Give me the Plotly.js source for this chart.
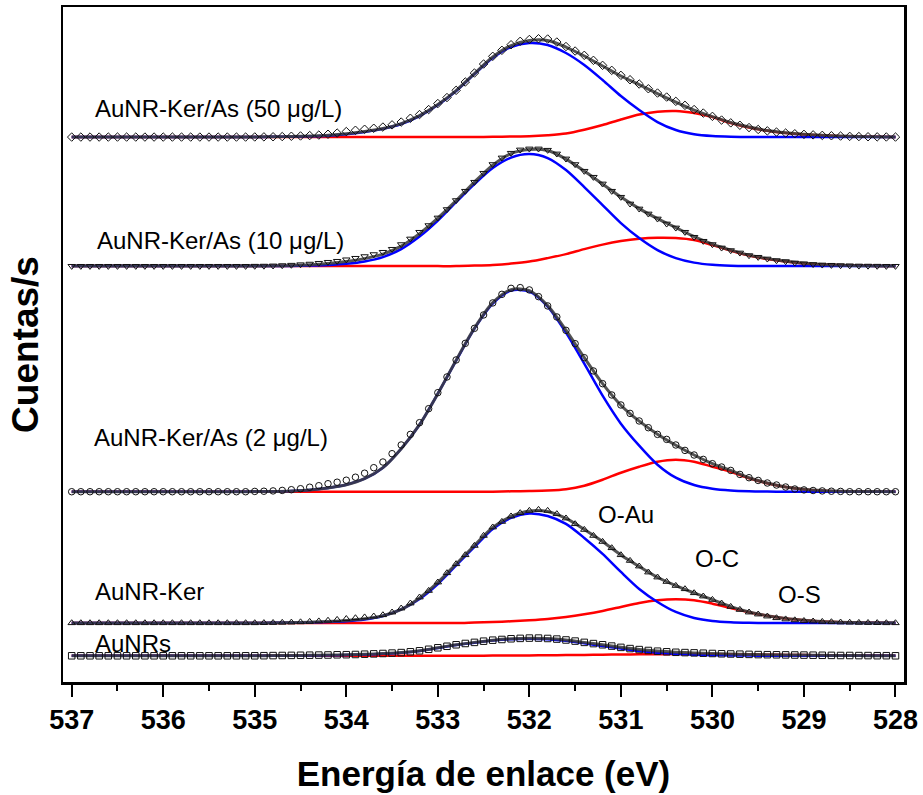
<!DOCTYPE html>
<html>
<head>
<meta charset="utf-8">
<script src="https://cdn.plot.ly/plotly-3.0.1.min.js"></script>
<style>html,body{margin:0;padding:0;background:#fff;}</style>
</head>
<body>
<div id="chart" style="width:923px;height:795px;"></div>
<script>
// Binding energies of the measured points (eV), 0.1 eV step
const energyPts = [537.0,536.9,536.8,536.7,536.6,536.5,536.4,536.3,536.2,536.1,536.0,535.9,535.8,535.7,535.6,535.5,535.4,535.3,535.2,535.1,
535.0,534.9,534.8,534.7,534.6,534.5,534.4,534.3,534.2,534.1,534.0,533.9,533.8,533.7,533.6,533.5,533.4,533.3,533.2,533.1,
533.0,532.9,532.8,532.7,532.6,532.5,532.4,532.3,532.2,532.1,532.0,531.9,531.8,531.7,531.6,531.5,531.4,531.3,531.2,531.1,
531.0,530.9,530.8,530.7,530.6,530.5,530.4,530.3,530.2,530.1,530.0,529.9,529.8,529.7,529.6,529.5,529.4,529.3,529.2,529.1,
529.0,528.9,528.8,528.7,528.6,528.5,528.4,528.3,528.2,528.1,528.0];
// Energies of the fitted curves (eV), 0.2 eV step
const energyFit = [537.0,536.8,536.6,536.4,536.2,536.0,535.8,535.6,535.4,535.2,
535.0,534.8,534.6,534.4,534.2,534.0,533.8,533.6,533.4,533.2,
533.0,532.8,532.6,532.4,532.2,532.0,531.8,531.6,531.4,531.2,
531.0,530.8,530.6,530.4,530.2,530.0,529.8,529.6,529.4,529.2,
529.0,528.8,528.6,528.4,528.2,528.0];

const sampleNames = ["AuNR-Ker/As (50 \u03bcg/L)","AuNR-Ker/As (10 \u03bcg/L)","AuNR-Ker/As (2 \u03bcg/L)","AuNR-Ker","AuNRs"];
const componentNames = ["O-Au", "O-C", "O-S"];
const baselines = [544.7, 415.7, 190.2, 59, 26.2];
const symbols = ["diamond-open","triangle-down-open","circle-open","triangle-up-open","square-open"];

// Measured counts (above each baseline)
const pts50 = [0,0,0,0,0,0,0,0,0,0,0,0,0,0,0,0,0,0,0,0,
0.1,0.2,0.3,0.5,0.8,1.1,1.5,2,2.8,4,
5.5,6.8,7.8,8.8,10,12.2,15,18.8,22.5,27.5,
33.5,39.5,46.7,55,64,73,80.7,86.7,92.3,95.7,
97.5,98.3,98,95,90.5,86,81.7,76.7,71.7,66.7,
61.7,57.3,53,48.3,44,40,35.7,31.7,27.5,24,
20.7,17,14.2,11.8,9.5,7.6,6.2,5,4,3.3,
2.7,2.2,1.7,1.3,1,0.7,0.5,0.3,0.2,0.1,0];
const pts10 = [0,0,0,0,0,0,0,0,0,0,0,0,0,0,0,0,0,0,0,0,
0.1,0.2,0.4,0.7,1.1,1.6,2.2,3,4,5,
6.5,8,9.7,11.7,14,17,21.7,27.3,34,40.7,
48.3,56.7,65.7,75,84,93,101.7,108.3,113,116.3,
117.3,117.3,116,112.3,107.3,101.7,95,89,82.3,75,
69,62.3,57.3,52.3,47.3,42.3,38.3,34,29,25,
21.7,18.3,15.7,13.3,10.7,9,7.3,5.7,4.7,3.3,
2.5,1.8,1.3,1,0.7,0.5,0.3,0.2,0.1,0,0];
const pts2 = [0,0,0,0,0,0,0,0,0,0,0,0,0,0,0,0,0,0,0,0,
0.3,0.5,0.8,1.3,2,3,4.5,6,8,9.5,
11.5,14.5,18.5,24,29.7,38,46.7,57.3,69,83,
99,114.7,131.7,148.3,163.3,176.7,188.7,197.3,203.3,204,
201.7,195,185.7,174.7,161.3,148,134,120.7,108,96.7,
86.7,78.3,70.7,64,57.3,52.3,46.7,41.3,36.7,32.3,
28,24.7,21.3,17.3,14,11.3,8.7,6.7,4.7,2.7,
1.8,1.2,0.8,0.5,0.3,0,0,0,0,0,0];
const ptsKer = [0,0,0,0,0,0,0,0,0,0,0,0,0,0,0,0,0,0,0,0,
0,0.1,0.2,0.4,0.6,0.9,1.3,1.8,2.5,3.3,
4.2,5,5.8,6.7,8,10.7,14.7,19.7,25.7,32.3,
40.7,50,59,68,77.3,87.3,95.7,101.3,106.7,110,
112.3,113.3,112.3,109,104.7,99,93.3,87.3,81.3,75,
68,62.3,56.7,50.7,45.7,41.3,37.3,34,30,26.7,
23.3,19.7,16.3,13.3,10.7,8.7,6.7,5,3.8,2.9,
2.2,1.7,1.3,1,0.7,0.5,0.3,0.2,0.1,0,0];
const ptsNR = [0,0,0,0,0,0,0,0,0,0,0,0,0,0,0,0,0,0,0,0,
0,0.1,0.2,0.3,0.4,0.5,0.6,0.7,0.8,1,
1.1,1.3,1.6,1.9,2.3,2.7,3.2,4,5,6.5,
8,9.5,11,12.3,13.4,14.6,15.6,16.3,17,17.4,
17.7,17.7,17.3,16.7,15.8,14.7,13.4,12.2,11,9.7,
8.4,7.2,6.2,5.3,4.6,4,3.5,3.2,2.9,2.6,
2.3,2,1.8,1.6,1.4,1.2,1.1,1,0.9,0.8,
0.7,0.6,0.5,0.4,0.3,0.3,0.2,0.2,0.1,0.1,0];

// Fit envelopes
const env50 = [0,0,0,0,0,0,0,0,0,0, 0.1,0.3,0.6,1.1,1.8, 3.2,5.5,8.5,13.5,21.5, 32.5,46.5,63.5,80,91.5, 96.5,96.5,90,81,71, 61,52.5,43.5,35,27, 20.5,14.5,10,6.5,4.3, 2.8,1.8,1.1,0.6,0.3, 0.1];
const env10 = [0,0,0,0,0,0,0,0,0,0, 0.1,0.3,0.7,1.4,2.6, 4.5,7.5,12,20,32.5, 48,65.5,84,101,112.5, 116.5,115.5,107,95,82, 69,57.5,47.5,38.5,29.5, 22,16,11,7.5,4.8, 2.9,1.6,0.9,0.4,0.2, 0.1];
const env2 = [0,0,0,0,0,0,0,0,0,0, 0.1,0.3,0.8,1.8,3.8, 7,13,24,43,67, 98,131.5,163.5,189,202, 201,186,161.5,134,108, 86.5,70.5,57.5,46.5,36.7, 28,21.3,14,8.7,4.8, 2.4,1.1,0.5,0.2,0.1, 0];
const envKer = [0,0,0,0,0,0,0,0,0,0, 0,0.2,0.4,0.8,1.5, 2.5,4.2,7.2,13.5,25, 40.5,59,77.5,95.5,106.5, 112,111.5,104.5,93.5,81.5, 68,56.5,45.7,37.3,30, 23.3,16.3,11,7.3,4.6, 2.8,1.5,0.8,0.4,0.2, 0.1];
const envNR = [0,0,0,0,0,0,0,0,0,0, 0,0.2,0.3,0.5,0.7, 1,1.5,2.2,3.2,5, 8,11,13.4,15.6,17, 17.6,17.2,15.8,13.4,11, 8.5,6.3,4.7,3.6,2.9, 2.3,1.8,1.4,1.1,0.9, 0.7,0.5,0.3,0.2,0.1, 0];

// O-Au component (blue)
const au50 = [0,0,0,0,0,0,0,0,0,0,0, 0.2,0.4,0.8,1.4, 2.7,5,8.2,13,21, 32,46,63,79,90, 94,92,84,72,57, 41,27,15,7,2.8, 1,0.3,0.1,0,0, 0,0,0,0,0, 0];
const au10 = [0,0,0,0,0,0,0,0,0,0,0, 0.1,0.2,0.5,1.1, 2.3,4.6,9,17,29.5, 45.5,64,82,98,108.5, 112,108,96,79,61, 43,28,16,8,3.5, 1.3,0.4,0.1,0,0, 0,0,0,0,0, 0];
const au2 = [0,0,0,0,0,0,0,0,0,0, 0.1,0.3,0.8,1.8,3.8, 7,13,24,43,67, 98,131,163,188,201, 200,185,159,128,96, 68,46,27,14,6.7, 3,1.2,0.4,0.1,0, 0,0,0,0,0, 0];
const auKer = [0,0,0,0,0,0,0,0,0,0,0, 0.1,0.2,0.5,1, 1.8,3.5,7,13.5,24, 39,57.5,76,94,105, 109.5,107,99,85,69, 51,34,21,11,5, 2,0.7,0.2,0,0, 0,0,0,0,0, 0];
const auNR = [0,0,0,0,0,0,0,0,0,0,0,0,0, 0.3,0.5, 0.8,1.3,2,3,4.9, 7.8,10.8,13.1,15.3,16.6, 17,16.5,14.9,12.4,9.8, 7.2,4.8,3.1,1.9,1.1, 0.6,0.3,0.2,0.1,0, 0,0,0,0,0, 0];

// O-C component (red)
const oc50 = [0,0,0,0,0,0,0,0,0,0,0,0,0,0,0,0,0,0,0,0,0,0,0, 0.2,0.5, 0.8,1.8,3.5,7.3,12, 17.5,22.5,25.3,26,24, 20,14,9.5,6.2,4, 2.6,1.6,0.9,0.4,0.2, 0.1];
const oc10 = [0,0,0,0,0,0,0,0,0,0,0,0,0,0,0,0,0,0,0,0,0,0, 0.5,1.2,2.5, 4.5,8,12,17,21.5, 25,27.3,28.3,28,26, 21,15.5,10.5,7,4.5, 2.7,1.5,0.8,0.4,0.2, 0.1];
const oc2 = [0,0,0,0,0,0,0,0,0,0,0,0,0,0,0,0,0,0,0,0,0,0,0,0, 0.4, 0.7,1.2,2.5,6,12, 19,25,30,32,30, 25,20,13.5,8.5,4.7, 2.3,1,0.4,0.1,0, 0];
const ocKer = [0,0,0,0,0,0,0,0,0,0,0,0,0,0,0,0,0,0,0,0,0,0, 0.5,1,1.7, 2.7,4,6,8.7,12, 16,20,22.7,23.7,22.7, 19.3,15,10.8,7.2,4.5, 2.7,1.4,0.7,0.3,0.1, 0];
const ocNR = [0,0,0,0,0,0,0,0,0,0,0,0,0,0,0,0,0,0,0,0,0,0, 0.1,0.2,0.3, 0.4,0.5,0.7,0.9,1.1, 1.3,1.5,1.6,1.7,1.7, 1.6,1.5,1.3,1.1,0.9, 0.7,0.5,0.4,0.3,0.2, 0.1];

const allPts = [pts50, pts10, pts2, ptsKer, ptsNR];
const allEnv = [env50, env10, env2, envKer, envNR];
const allAu = [au50, au10, au2, auKer, auNR];
const allOC = [oc50, oc10, oc2, ocKer, ocNR];

const traces = [];
for (let k = 0; k < 5; k++) {
  const off = baselines[k];
  const shift = a => a.map(v => v + off);
  traces.push({x: energyFit, y: shift(allOC[k]), mode: 'lines', line: {color: '#ff0000', width: 2.5, shape: 'spline', smoothing: 0.8}, hoverinfo: 'skip'});
  traces.push({x: energyFit, y: shift(allAu[k]), mode: 'lines', line: {color: '#0000ff', width: 2.5, shape: 'spline', smoothing: 0.8}, hoverinfo: 'skip'});
  traces.push({x: energyFit, y: shift(allEnv[k]), mode: 'lines', line: {color: 'rgba(60,60,60,0.88)', width: 3, shape: 'spline', smoothing: 0.8}, hoverinfo: 'skip'});
  traces.push({x: energyPts, y: shift(allPts[k]), mode: 'markers', name: sampleNames[k],
    marker: {symbol: symbols[k], size: 6.5, color: '#111', line: {width: 1, color: '#111'}}});
}

const F = 'Liberation Sans, Arial, Helvetica, sans-serif';
const labelPos = [
  {x: 536.77, y: 573}, {x: 536.75, y: 441.5}, {x: 536.78, y: 244.5},
  {x: 536.77, y: 90.5}, {x: 536.77, y: 38.5}
];
const annotations = sampleNames.map((t, k) => ({
  x: labelPos[k].x, y: labelPos[k].y, xref: 'x', yref: 'y', text: t, showarrow: false,
  xanchor: 'left', yanchor: 'middle', font: {family: F, size: 24, color: '#000'}
}));
const compPos = [{x: 530.94, y: 167.7}, {x: 529.95, y: 123.7}, {x: 529.05, y: 87.7}];
componentNames.forEach((t, i) => annotations.push({
  x: compPos[i].x, y: compPos[i].y, xref: 'x', yref: 'y', text: t, showarrow: false,
  xanchor: 'center', yanchor: 'middle', font: {family: F, size: 24, color: '#000'}
}));

const layout = {
  width: 923, height: 795,
  margin: {l: 63, r: 19, t: 7, b: 113},
  paper_bgcolor: '#fff', plot_bgcolor: '#fff',
  showlegend: false,
  xaxis: {
    range: [537.095, 527.907], tick0: 528, dtick: 1,
    ticks: 'outside', ticklen: 12, tickwidth: 2, tickcolor: '#000',
    showline: true, linewidth: 2.5, linecolor: '#000', mirror: true,
    showgrid: false, zeroline: false,
    tickfont: {family: F, size: 27, color: '#000', weight: 'bold'},
    minor: {dtick: 0.5, ticks: 'outside', ticklen: 6, tickwidth: 2, tickcolor: '#000', showgrid: false},
    title: {text: 'Energía de enlace (eV)', font: {family: F, size: 35, color: '#000', weight: 'bold'}, standoff: 28}
  },
  yaxis: {
    range: [0, 674.7], showticklabels: false, ticks: '',
    showline: true, linewidth: 2.5, linecolor: '#000', mirror: true,
    showgrid: false, zeroline: false,
    title: {text: 'Cuentas/s', font: {family: F, size: 37, color: '#000', weight: 'bold'}, standoff: 11}
  },
  annotations: annotations
};

Plotly.newPlot('chart', traces, layout, {displayModeBar: false, staticPlot: true});
</script>
</body>
</html>
